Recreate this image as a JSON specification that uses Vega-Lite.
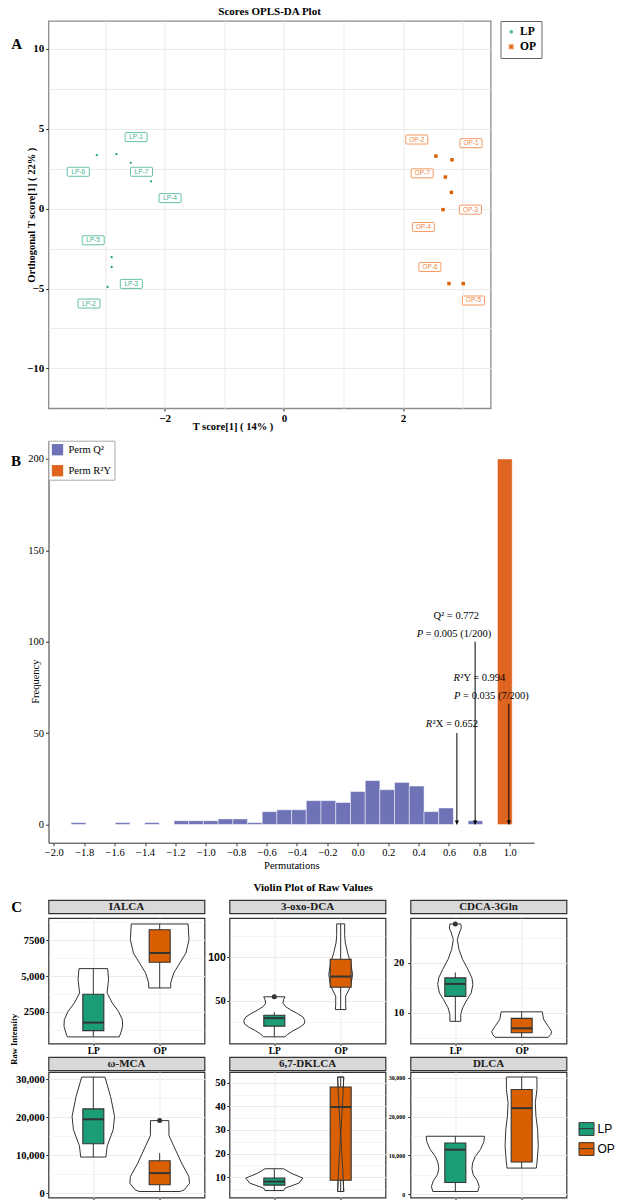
{
 "$schema": "https://vega.github.io/schema/vega-lite/v6.json",
 "background": "white",
 "padding": {"left": 9.5, "top": 4, "right": 0, "bottom": 0},
 "config": {
  "view": {"stroke": null},
  "axis": {"labelFont": "Liberation Serif", "titleFont": "Liberation Serif", "labelColor": "#000000", "titleColor": "#000000", "labelFontWeight": "bold", "titleFontWeight": "bold", "labelFontSize": 10.5, "titleFontSize": 10.5, "tickColor": "#333333", "tickSize": 2.75, "tickWidth": 1, "gridColor": "#ebebeb", "domain": false, "labelOverlap": false},
  "title": {"font": "Liberation Serif", "fontWeight": "bold", "fontSize": 11, "color": "#000000"},
  "legend": {"labelFont": "Liberation Serif", "labelColor": "#000000"}
 },
 "datasets": {
  "scores": [
   {"id": "LP-1", "g": "LP", "t1": -2.81, "to1": 3.41, "lx": -2.48, "ly": 4.48},
   {"id": "LP-2", "g": "LP", "t1": -2.96, "to1": -4.9, "lx": -3.27, "ly": -5.94},
   {"id": "LP-3", "g": "LP", "t1": -2.89, "to1": -3.65, "lx": -2.56, "ly": -4.71},
   {"id": "LP-4", "g": "LP", "t1": -2.23, "to1": 1.71, "lx": -1.91, "ly": 0.66},
   {"id": "LP-5", "g": "LP", "t1": -2.89, "to1": -3.04, "lx": -3.2, "ly": -1.98},
   {"id": "LP-6", "g": "LP", "t1": -3.14, "to1": 3.35, "lx": -3.45, "ly": 2.31},
   {"id": "LP-7", "g": "LP", "t1": -2.57, "to1": 2.87, "lx": -2.39, "ly": 2.31},
   {"id": "OP-1", "g": "OP", "t1": 2.82, "to1": 3.06, "lx": 3.14, "ly": 4.1},
   {"id": "OP-2", "g": "OP", "t1": 2.55, "to1": 3.29, "lx": 2.23, "ly": 4.33},
   {"id": "OP-3", "g": "OP", "t1": 2.81, "to1": 1.02, "lx": 3.13, "ly": -0.06},
   {"id": "OP-4", "g": "OP", "t1": 2.67, "to1": -0.06, "lx": 2.34, "ly": -1.15},
   {"id": "OP-5", "g": "OP", "t1": 3.01, "to1": -4.69, "lx": 3.18, "ly": -5.75},
   {"id": "OP-6", "g": "OP", "t1": 2.77, "to1": -4.69, "lx": 2.45, "ly": -3.65},
   {"id": "OP-7", "g": "OP", "t1": 2.71, "to1": 1.98, "lx": 2.32, "ly": 2.21}
  ],
  "hist": [
   {"x0": -1.886, "x1": -1.789, "n": 1, "type": "Perm Q²"},
   {"x0": -1.596, "x1": -1.499, "n": 1, "type": "Perm Q²"},
   {"x0": -1.402, "x1": -1.306, "n": 1, "type": "Perm Q²"},
   {"x0": -1.209, "x1": -1.113, "n": 2, "type": "Perm Q²"},
   {"x0": -1.113, "x1": -1.016, "n": 2, "type": "Perm Q²"},
   {"x0": -1.016, "x1": -0.919, "n": 2, "type": "Perm Q²"},
   {"x0": -0.919, "x1": -0.822, "n": 3, "type": "Perm Q²"},
   {"x0": -0.822, "x1": -0.726, "n": 3, "type": "Perm Q²"},
   {"x0": -0.726, "x1": -0.629, "n": 1, "type": "Perm Q²"},
   {"x0": -0.629, "x1": -0.532, "n": 7, "type": "Perm Q²"},
   {"x0": -0.532, "x1": -0.435, "n": 8, "type": "Perm Q²"},
   {"x0": -0.435, "x1": -0.339, "n": 8, "type": "Perm Q²"},
   {"x0": -0.339, "x1": -0.242, "n": 13, "type": "Perm Q²"},
   {"x0": -0.242, "x1": -0.145, "n": 13, "type": "Perm Q²"},
   {"x0": -0.145, "x1": -0.048, "n": 12, "type": "Perm Q²"},
   {"x0": -0.048, "x1": 0.049, "n": 18, "type": "Perm Q²"},
   {"x0": 0.049, "x1": 0.145, "n": 24, "type": "Perm Q²"},
   {"x0": 0.145, "x1": 0.242, "n": 19, "type": "Perm Q²"},
   {"x0": 0.242, "x1": 0.339, "n": 23, "type": "Perm Q²"},
   {"x0": 0.339, "x1": 0.436, "n": 21, "type": "Perm Q²"},
   {"x0": 0.436, "x1": 0.532, "n": 7, "type": "Perm Q²"},
   {"x0": 0.532, "x1": 0.629, "n": 9, "type": "Perm Q²"},
   {"x0": 0.726, "x1": 0.822, "n": 2, "type": "Perm Q²"},
   {"x0": 0.919, "x1": 1.016, "n": 200, "type": "Perm R²Y"}
  ],
  "arrows": [
   {"x": 0.652, "top": 50},
   {"x": 0.772, "top": 100},
   {"x": 0.994, "top": 66}
  ],
  "ann": [
   {"t": "Q² = 0.772", "x": 0.498, "y": 113.8, "it": 0},
   {"t": "P", "x": 0.43, "y": 104.2, "it": 1},
   {"t": "= 0.005 (1/200)", "x": 0.445, "y": 104.2, "it": 0},
   {"t": "R", "x": 0.672, "y": 80, "it": 1},
   {"t": "²Y = 0.994", "x": 0.674, "y": 80, "it": 0},
   {"t": "P", "x": 0.676, "y": 70.3, "it": 1},
   {"t": "= 0.035 (7/200)", "x": 0.693, "y": 70.3, "it": 0},
   {"t": "R", "x": 0.49, "y": 55, "it": 1},
   {"t": "²X = 0.652", "x": 0.492, "y": 55, "it": 0}
  ],
  "viol": [
   {"m": "IALCA", "g": "LP", "v": 5519, "l": 0.784, "r": 1.216},
   {"m": "IALCA", "g": "LP", "v": 4751, "l": 0.77, "r": 1.23},
   {"m": "IALCA", "g": "LP", "v": 3820, "l": 0.793, "r": 1.207},
   {"m": "IALCA", "g": "LP", "v": 3122, "l": 0.715, "r": 1.285},
   {"m": "IALCA", "g": "LP", "v": 2542, "l": 0.622, "r": 1.378},
   {"m": "IALCA", "g": "LP", "v": 1956, "l": 0.563, "r": 1.437},
   {"m": "IALCA", "g": "LP", "v": 1494, "l": 0.558, "r": 1.442},
   {"m": "IALCA", "g": "LP", "v": 1027, "l": 0.586, "r": 1.414},
   {"m": "IALCA", "g": "LP", "v": 747, "l": 0.609, "r": 1.391},
   {"m": "IALCA", "g": "OP", "v": 8638, "l": 1.572, "r": 2.428},
   {"m": "IALCA", "g": "OP", "v": 7542, "l": 1.558, "r": 2.442},
   {"m": "IALCA", "g": "OP", "v": 6613, "l": 1.604, "r": 2.396},
   {"m": "IALCA", "g": "OP", "v": 5914, "l": 1.696, "r": 2.304},
   {"m": "IALCA", "g": "OP", "v": 5216, "l": 1.788, "r": 2.212},
   {"m": "IALCA", "g": "OP", "v": 4518, "l": 1.834, "r": 2.166},
   {"m": "IALCA", "g": "OP", "v": 4169, "l": 1.834, "r": 2.166},
   {"m": "3-oxo-DCA", "g": "LP", "v": 54.3, "l": 0.84, "r": 1.16},
   {"m": "3-oxo-DCA", "g": "LP", "v": 51, "l": 0.86, "r": 1.14},
   {"m": "3-oxo-DCA", "g": "LP", "v": 47, "l": 0.87, "r": 1.13},
   {"m": "3-oxo-DCA", "g": "LP", "v": 43, "l": 0.83, "r": 1.17},
   {"m": "3-oxo-DCA", "g": "LP", "v": 39, "l": 0.75, "r": 1.25},
   {"m": "3-oxo-DCA", "g": "LP", "v": 35, "l": 0.65, "r": 1.35},
   {"m": "3-oxo-DCA", "g": "LP", "v": 31, "l": 0.57, "r": 1.43},
   {"m": "3-oxo-DCA", "g": "LP", "v": 27, "l": 0.54, "r": 1.46},
   {"m": "3-oxo-DCA", "g": "LP", "v": 23, "l": 0.55, "r": 1.45},
   {"m": "3-oxo-DCA", "g": "LP", "v": 19, "l": 0.62, "r": 1.38},
   {"m": "3-oxo-DCA", "g": "LP", "v": 15, "l": 0.72, "r": 1.28},
   {"m": "3-oxo-DCA", "g": "LP", "v": 11, "l": 0.8, "r": 1.2},
   {"m": "3-oxo-DCA", "g": "LP", "v": 8.1, "l": 0.84, "r": 1.16},
   {"m": "3-oxo-DCA", "g": "OP", "v": 138.5, "l": 1.94, "r": 2.06},
   {"m": "3-oxo-DCA", "g": "OP", "v": 125, "l": 1.94, "r": 2.06},
   {"m": "3-oxo-DCA", "g": "OP", "v": 116.6, "l": 1.93, "r": 2.07},
   {"m": "3-oxo-DCA", "g": "OP", "v": 105, "l": 1.895, "r": 2.105},
   {"m": "3-oxo-DCA", "g": "OP", "v": 93.5, "l": 1.85, "r": 2.15},
   {"m": "3-oxo-DCA", "g": "OP", "v": 80, "l": 1.82, "r": 2.18},
   {"m": "3-oxo-DCA", "g": "OP", "v": 66.6, "l": 1.85, "r": 2.15},
   {"m": "3-oxo-DCA", "g": "OP", "v": 55, "l": 1.925, "r": 2.075},
   {"m": "3-oxo-DCA", "g": "OP", "v": 45, "l": 1.925, "r": 2.075},
   {"m": "3-oxo-DCA", "g": "OP", "v": 39.6, "l": 1.92, "r": 2.08},
   {"m": "CDCA-3Gln", "g": "LP", "v": 27.8, "l": 0.918, "r": 1.082},
   {"m": "CDCA-3Gln", "g": "LP", "v": 27.0, "l": 0.91, "r": 1.09},
   {"m": "CDCA-3Gln", "g": "LP", "v": 26.0, "l": 0.94, "r": 1.06},
   {"m": "CDCA-3Gln", "g": "LP", "v": 24.7, "l": 0.97, "r": 1.03},
   {"m": "CDCA-3Gln", "g": "LP", "v": 22.7, "l": 0.945, "r": 1.055},
   {"m": "CDCA-3Gln", "g": "LP", "v": 20.7, "l": 0.89, "r": 1.11},
   {"m": "CDCA-3Gln", "g": "LP", "v": 18.7, "l": 0.81, "r": 1.19},
   {"m": "CDCA-3Gln", "g": "LP", "v": 17.0, "l": 0.75, "r": 1.25},
   {"m": "CDCA-3Gln", "g": "LP", "v": 15.7, "l": 0.735, "r": 1.265},
   {"m": "CDCA-3Gln", "g": "LP", "v": 14.0, "l": 0.76, "r": 1.24},
   {"m": "CDCA-3Gln", "g": "LP", "v": 12.7, "l": 0.82, "r": 1.18},
   {"m": "CDCA-3Gln", "g": "LP", "v": 11.0, "l": 0.89, "r": 1.11},
   {"m": "CDCA-3Gln", "g": "LP", "v": 9.7, "l": 0.918, "r": 1.082},
   {"m": "CDCA-3Gln", "g": "LP", "v": 8.3, "l": 0.918, "r": 1.082},
   {"m": "CDCA-3Gln", "g": "OP", "v": 10.2, "l": 1.69, "r": 2.31},
   {"m": "CDCA-3Gln", "g": "OP", "v": 8.7, "l": 1.67, "r": 2.33},
   {"m": "CDCA-3Gln", "g": "OP", "v": 7.3, "l": 1.6, "r": 2.4},
   {"m": "CDCA-3Gln", "g": "OP", "v": 6.3, "l": 1.55, "r": 2.45},
   {"m": "CDCA-3Gln", "g": "OP", "v": 5.7, "l": 1.56, "r": 2.44},
   {"m": "CDCA-3Gln", "g": "OP", "v": 5.1, "l": 1.6, "r": 2.4},
   {"m": "ω-MCA", "g": "LP", "v": 30611, "l": 0.825, "r": 1.175},
   {"m": "ω-MCA", "g": "LP", "v": 25490, "l": 0.74, "r": 1.26},
   {"m": "ω-MCA", "g": "LP", "v": 20290, "l": 0.68, "r": 1.32},
   {"m": "ω-MCA", "g": "LP", "v": 16760, "l": 0.7, "r": 1.3},
   {"m": "ω-MCA", "g": "LP", "v": 12524, "l": 0.79, "r": 1.21},
   {"m": "ω-MCA", "g": "LP", "v": 9526, "l": 0.81, "r": 1.19},
   {"m": "ω-MCA", "g": "OP", "v": 19137, "l": 1.862, "r": 2.138},
   {"m": "ω-MCA", "g": "OP", "v": 15170, "l": 1.86, "r": 2.14},
   {"m": "ω-MCA", "g": "OP", "v": 12524, "l": 1.79, "r": 2.21},
   {"m": "ω-MCA", "g": "OP", "v": 7938, "l": 1.67, "r": 2.33},
   {"m": "ω-MCA", "g": "OP", "v": 4410, "l": 1.56, "r": 2.44},
   {"m": "ω-MCA", "g": "OP", "v": 2646, "l": 1.55, "r": 2.45},
   {"m": "ω-MCA", "g": "OP", "v": 882, "l": 1.63, "r": 2.37},
   {"m": "ω-MCA", "g": "OP", "v": 441, "l": 1.69, "r": 2.31},
   {"m": "6,7-DKLCA", "g": "LP", "v": 13.55, "l": 0.86, "r": 1.14},
   {"m": "6,7-DKLCA", "g": "LP", "v": 11.7, "l": 0.75, "r": 1.25},
   {"m": "6,7-DKLCA", "g": "LP", "v": 9.57, "l": 0.57, "r": 1.43},
   {"m": "6,7-DKLCA", "g": "LP", "v": 7.45, "l": 0.63, "r": 1.37},
   {"m": "6,7-DKLCA", "g": "LP", "v": 5.3, "l": 0.84, "r": 1.16},
   {"m": "6,7-DKLCA", "g": "LP", "v": 4.3, "l": 0.86, "r": 1.14},
   {"m": "6,7-DKLCA", "g": "OP", "v": 52.4, "l": 1.954, "r": 2.046},
   {"m": "6,7-DKLCA", "g": "OP", "v": 45, "l": 1.965, "r": 2.035},
   {"m": "6,7-DKLCA", "g": "OP", "v": 38, "l": 1.978, "r": 2.022},
   {"m": "6,7-DKLCA", "g": "OP", "v": 30, "l": 1.994, "r": 2.006},
   {"m": "6,7-DKLCA", "g": "OP", "v": 28, "l": 1.997, "r": 2.003},
   {"m": "6,7-DKLCA", "g": "OP", "v": 22, "l": 1.988, "r": 2.012},
   {"m": "6,7-DKLCA", "g": "OP", "v": 15, "l": 1.972, "r": 2.028},
   {"m": "6,7-DKLCA", "g": "OP", "v": 8, "l": 1.96, "r": 2.04},
   {"m": "6,7-DKLCA", "g": "OP", "v": 3.9, "l": 1.954, "r": 2.046},
   {"m": "DLCA", "g": "LP", "v": 14920, "l": 0.56, "r": 1.44},
   {"m": "DLCA", "g": "LP", "v": 13500, "l": 0.57, "r": 1.43},
   {"m": "DLCA", "g": "LP", "v": 11554, "l": 0.62, "r": 1.38},
   {"m": "DLCA", "g": "LP", "v": 9700, "l": 0.7, "r": 1.3},
   {"m": "DLCA", "g": "LP", "v": 8017, "l": 0.74, "r": 1.26},
   {"m": "DLCA", "g": "LP", "v": 6500, "l": 0.75, "r": 1.25},
   {"m": "DLCA", "g": "LP", "v": 5000, "l": 0.73, "r": 1.27},
   {"m": "DLCA", "g": "LP", "v": 3500, "l": 0.67, "r": 1.33},
   {"m": "DLCA", "g": "LP", "v": 2000, "l": 0.64, "r": 1.36},
   {"m": "DLCA", "g": "LP", "v": 698, "l": 0.66, "r": 1.34},
   {"m": "DLCA", "g": "OP", "v": 30177, "l": 1.77, "r": 2.23},
   {"m": "DLCA", "g": "OP", "v": 26974, "l": 1.77, "r": 2.23},
   {"m": "DLCA", "g": "OP", "v": 23533, "l": 1.795, "r": 2.205},
   {"m": "DLCA", "g": "OP", "v": 20093, "l": 1.785, "r": 2.215},
   {"m": "DLCA", "g": "OP", "v": 16638, "l": 1.76, "r": 2.24},
   {"m": "DLCA", "g": "OP", "v": 12335, "l": 1.75, "r": 2.25},
   {"m": "DLCA", "g": "OP", "v": 8017, "l": 1.77, "r": 2.23},
   {"m": "DLCA", "g": "OP", "v": 6724, "l": 1.78, "r": 2.22}
  ],
  "box": [
   {"m": "IALCA", "g": "LP", "gi": 1, "lo": 747, "q1": 1187, "med": 1746, "q3": 3729, "hi": 5519},
   {"m": "IALCA", "g": "OP", "gi": 2, "lo": 4169, "q1": 5964, "med": 6613, "q3": 8240, "hi": 8638},
   {"m": "3-oxo-DCA", "g": "LP", "gi": 1, "lo": 8.1, "q1": 20.5, "med": 29.7, "q3": 33.1, "hi": 36.6},
   {"m": "3-oxo-DCA", "g": "OP", "gi": 2, "lo": 39.6, "q1": 65.4, "med": 77.7, "q3": 97.7, "hi": 138.5},
   {"m": "CDCA-3Gln", "g": "LP", "gi": 1, "lo": 8.3, "q1": 13.3, "med": 15.8, "q3": 17.0, "hi": 18.1},
   {"m": "CDCA-3Gln", "g": "OP", "gi": 2, "lo": 5.1, "q1": 6.0, "med": 6.9, "q3": 8.9, "hi": 10.2},
   {"m": "ω-MCA", "g": "LP", "gi": 1, "lo": 9526, "q1": 13054, "med": 19491, "q3": 22226, "hi": 30611},
   {"m": "ω-MCA", "g": "OP", "gi": 2, "lo": 441, "q1": 2205, "med": 5292, "q3": 8557, "hi": 10584},
   {"m": "6,7-DKLCA", "g": "LP", "gi": 1, "lo": 4.3, "q1": 6.6, "med": 8.1, "q3": 9.6, "hi": 13.5},
   {"m": "6,7-DKLCA", "g": "OP", "gi": 2, "lo": 3.9, "q1": 8.7, "med": 39.7, "q3": 48.2, "hi": 52.4},
   {"m": "DLCA", "g": "LP", "gi": 1, "lo": 698, "q1": 3026, "med": 11465, "q3": 13189, "hi": 14920},
   {"m": "DLCA", "g": "OP", "gi": 2, "lo": 6724, "q1": 8275, "med": 22159, "q3": 26974, "hi": 30177}
  ],
  "outl": [
   {"m": "3-oxo-DCA", "g": "LP", "gi": 1, "v": 54.3},
   {"m": "CDCA-3Gln", "g": "LP", "gi": 1, "v": 27.8},
   {"m": "ω-MCA", "g": "OP", "gi": 2, "v": 19137}
  ]
 },
 "spacing": 11,
 "resolve": {"scale": {"color": "independent", "shape": "independent", "size": "independent", "fill": "independent", "stroke": "independent"}, "legend": {"color": "independent", "shape": "independent", "size": "independent", "fill": "independent", "stroke": "independent"}},
 "vconcat": [
  {
   "bounds": "flush",
   "spacing": 31.7,
   "resolve": {"scale": {"color": "independent", "shape": "independent", "size": "independent", "fill": "independent", "stroke": "independent"}, "legend": {"color": "independent", "shape": "independent", "size": "independent", "fill": "independent", "stroke": "independent"}},
   "vconcat": [
    {
     "width": 442.2, "height": 387.3,
     "title": {"text": "Scores OPLS-DA Plot", "anchor": "middle", "offset": 4},
     "view": {"stroke": "#8c8c8c", "strokeWidth": 1.3},
     "layer": [
      {
       "data": {"name": "scores"},
       "mark": {"type": "point", "filled": true, "opacity": 1},
       "encoding": {
        "x": {"field": "t1", "type": "quantitative", "scale": {"domain": [-3.95, 3.47], "nice": false, "zero": false},
         "axis": {"values": [-3, -2, -1, 0, 1, 2, 3], "tickCount": 100, "labelOverlap": false, "labelExpr": "datum.value % 2 == 0 ? format(datum.value, 'd') : ''", "tickOpacity": {"condition": {"test": "datum.value % 2 != 0", "value": 0}, "value": 1}, "grid": true, "gridWidth": 1, "labelFontSize": 11, "labelPadding": 1, "title": "T score[1] ( 14% )", "titleX": 184, "titlePadding": -2}},
        "y": {"field": "to1", "type": "quantitative", "scale": {"domain": [-12.5, 11.75], "nice": false, "zero": false},
         "axis": {"values": [-10, -7.5, -5, -2.5, 0, 2.5, 5, 7.5, 10], "tickCount": 100, "labelOverlap": false, "labelExpr": "datum.value % 5 == 0 ? format(datum.value, 'd') : ''", "tickOpacity": {"condition": {"test": "datum.value % 5 != 0", "value": 0}, "value": 1}, "grid": true, "gridWidth": 1, "labelFontSize": 11, "labelPadding": 2, "title": "Orthogonal T score[1] ( 22% )", "titlePadding": -10}},
        "color": {"field": "g", "type": "nominal", "title": null, "scale": {"domain": ["LP", "OP"], "range": ["#1b9e77", "#d95f02"]},
         "legend": {"title": null, "orient": "right", "offset": 9, "padding": 5, "strokeColor": "#666666", "labelFont": "Liberation Serif", "labelFontWeight": "bold", "labelFontSize": 11.5, "rowPadding": 2, "labelOffset": 3}},
        "shape": {"field": "g", "type": "nominal", "title": null, "scale": {"domain": ["LP", "OP"], "range": ["circle", "square"]}},
        "size": {"field": "g", "type": "nominal", "title": null, "scale": {"domain": ["LP", "OP"], "range": [5, 12]}}
       }
      },
      {
       "data": {"name": "scores"},
       "mark": {"type": "point", "shape": "M-0.92,-0.41H0.92Q1,-0.41 1,-0.33V0.33Q1,0.41 0.92,0.41H-0.92Q-1,0.41 -1,0.33V-0.33Q-1,-0.41 -0.92,-0.41Z", "size": 484, "filled": true, "fill": "#ffffff", "fillOpacity": 1, "strokeWidth": 0.9, "opacity": 1},
       "encoding": {
        "x": {"field": "lx", "type": "quantitative"},
        "y": {"field": "ly", "type": "quantitative"},
        "stroke": {"field": "g", "type": "nominal", "scale": {"domain": ["LP", "OP"], "range": ["#55b99b", "#f08c4f"]}, "legend": null}
       }
      },
      {
       "data": {"name": "scores"},
       "mark": {"type": "text", "font": "Liberation Sans", "fontSize": 6.5, "baseline": "middle", "align": "center"},
       "encoding": {
        "x": {"field": "lx", "type": "quantitative"},
        "y": {"field": "ly", "type": "quantitative"},
        "text": {"field": "id"},
        "fill": {"field": "g", "type": "nominal", "scale": {"domain": ["LP", "OP"], "range": ["#45b08f", "#ee8544"]}, "legend": null}
       }
      },
      {
       "data": {"values": [{"t": "A", "x": -4.485, "y": 10.31}]},
       "mark": {"type": "text", "font": "Liberation Serif", "fontSize": 15, "fontWeight": "bold", "baseline": "middle", "align": "center"},
       "encoding": {
        "x": {"field": "x", "type": "quantitative"},
        "y": {"field": "y", "type": "quantitative"},
        "text": {"field": "t"}
       }
      }
     ]
    },
    {
     "width": 485.6, "height": 402,
     "view": {"stroke": null},
     "layer": [
      {
       "data": {"name": "hist"},
       "mark": {"type": "bar", "stroke": "#ffffff", "strokeWidth": 0.6, "strokeOpacity": 0.8},
       "encoding": {
        "x": {"field": "x0", "type": "quantitative", "scale": {"domain": [-2.035, 1.16], "nice": false, "zero": false},
         "axis": {"values": [-2, -1.8, -1.6, -1.4, -1.2, -1, -0.8, -0.6, -0.4, -0.2, 0, 0.2, 0.4, 0.6, 0.8, 1], "tickCount": 100, "labelOverlap": false, "labelExpr": "format(datum.value, '.1f')", "labelFontWeight": "normal", "labelFontSize": 10.5, "domain": true, "domainColor": "#333333", "grid": false, "labelPadding": 2, "tickSize": 3, "title": "Permutations", "titleFontWeight": "normal", "titlePadding": 2}},
        "x2": {"field": "x1"},
        "y": {"field": "n", "type": "quantitative", "scale": {"domain": [-10, 210], "nice": false, "zero": false},
         "axis": {"values": [0, 50, 100, 150, 200], "tickCount": 100, "labelOverlap": false, "labelExpr": "format(datum.value, 'd')", "labelFontWeight": "normal", "labelFontSize": 10.5, "domain": true, "domainColor": "#333333", "grid": false, "labelPadding": 2, "tickSize": 3, "title": "Frequency", "titleFontWeight": "normal", "titleY": 240.5, "titlePadding": -13}},
        "y2": {"datum": 0},
        "color": {"field": "type", "type": "nominal", "scale": {"domain": ["Perm Q²", "Perm R²Y"], "range": ["#6e72b7", "#de6420"]},
         "legend": {"title": null, "orient": "top-left", "offset": 0, "padding": 3, "strokeColor": "#aaaaaa", "fillColor": "#ffffff", "symbolType": "square", "symbolSize": 128, "symbolStrokeWidth": 0, "labelFont": "Liberation Serif", "labelFontSize": 10.5, "rowPadding": 9, "labelOffset": 5}}
       }
      },
      {
       "data": {"name": "arrows"},
       "mark": {"type": "rule", "color": "#000000", "strokeWidth": 1},
       "encoding": {
        "x": {"field": "x", "type": "quantitative"},
        "y": {"field": "top", "type": "quantitative"},
        "y2": {"datum": 0}
       }
      },
      {
       "data": {"name": "arrows"},
       "mark": {"type": "point", "shape": "M-0.6,-1.1L0.6,-1.1L0,0Z", "filled": true, "size": 49, "color": "#000000", "opacity": 1},
       "encoding": {
        "x": {"field": "x", "type": "quantitative"},
        "y": {"datum": 0}
       }
      },
      {
       "data": {"name": "ann"},
       "transform": [{"filter": "datum.it == 0"}],
       "mark": {"type": "text", "font": "Liberation Serif", "fontSize": 10.5, "align": "left", "baseline": "middle", "color": "#000000"},
       "encoding": {
        "x": {"field": "x", "type": "quantitative"},
        "y": {"field": "y", "type": "quantitative"},
        "text": {"field": "t"}
       }
      },
      {
       "data": {"name": "ann"},
       "transform": [{"filter": "datum.it == 1"}],
       "mark": {"type": "text", "font": "Liberation Serif", "fontSize": 10.5, "fontStyle": "italic", "align": "right", "baseline": "middle", "color": "#000000"},
       "encoding": {
        "x": {"field": "x", "type": "quantitative"},
        "y": {"field": "y", "type": "quantitative"},
        "text": {"field": "t"}
       }
      },
      {
       "data": {"values": [{"t": "B", "x": -2.249, "y": 199}]},
       "mark": {"type": "text", "font": "Liberation Serif", "fontSize": 15, "fontWeight": "bold", "baseline": "middle", "align": "center"},
       "encoding": {
        "x": {"field": "x", "type": "quantitative"},
        "y": {"field": "y", "type": "quantitative"},
        "text": {"field": "t"}
       }
      }
     ]
    }
   ]
  },
  {
   "title": {"text": "Violin Plot of Raw Values", "anchor": "middle", "frame": "bounds", "offset": 6},
   "resolve": {"scale": {"color": "independent"}, "legend": {"color": "independent"}},
   "vconcat": [
    {
     "title": {"text": "Raw Intensity", "orient": "left", "anchor": "middle", "fontSize": 8.5, "offset": -8, "dx": 15},
     "columns": 3,
     "align": "each",
     "spacing": {"row": 0, "column": 1},
     "resolve": {"scale": {"color": "independent"}, "legend": {"color": "independent"}},
     "concat": [
      {
       "width": 156, "height": 13.3,
       "view": {"fill": "#d9d9d9", "stroke": "#333333", "strokeWidth": 1.2},
       "layer": [
        {
         "data": {"values": [{"name": "IALCA"}]},
         "mark": {"type": "text", "font": "Liberation Serif", "fontWeight": "bold", "fontSize": 11, "baseline": "middle", "color": "#1a1a1a"},
         "encoding": {"text": {"field": "name"}}
        },
        {
         "data": {"values": [{"t": "C", "x": -0.048}]},
         "mark": {"type": "text", "font": "Liberation Serif", "fontWeight": "bold", "fontSize": 15, "baseline": "middle", "align": "center", "color": "#000000"},
         "encoding": {
          "x": {"field": "x", "type": "quantitative", "scale": {"domain": [0.4, 2.6], "nice": false, "zero": false}, "axis": null},
          "text": {"field": "t"}
         }
        }
       ]
      },
      {
       "width": 156, "height": 13.3,
       "view": {"fill": "#d9d9d9", "stroke": "#333333", "strokeWidth": 1.2},
       "data": {"values": [{"name": "3-oxo-DCA"}]},
       "mark": {"type": "text", "font": "Liberation Serif", "fontWeight": "bold", "fontSize": 11, "baseline": "middle", "color": "#1a1a1a"},
       "encoding": {"text": {"field": "name"}}
      },
      {
       "width": 156, "height": 13.3,
       "view": {"fill": "#d9d9d9", "stroke": "#333333", "strokeWidth": 1.2},
       "data": {"values": [{"name": "CDCA-3Gln"}]},
       "mark": {"type": "text", "font": "Liberation Serif", "fontWeight": "bold", "fontSize": 11, "baseline": "middle", "color": "#1a1a1a"},
       "encoding": {"text": {"field": "name"}}
      },
      {
       "width": 156, "height": 125.5,
       "view": {"stroke": "#333333", "strokeWidth": 1.2},
       "layer": [
        {"data": {"name": "viol"}, "transform": [{"filter": "datum.m == 'IALCA'"}],
         "mark": {"type": "area", "orient": "horizontal", "fill": "#ffffff", "stroke": "#333333", "strokeWidth": 1},
         "encoding": {
          "y": {"field": "v", "type": "quantitative", "scale": {"domain": [286, 9057], "nice": false, "zero": false},
           "axis": {"values": [1250, 2500, 3750, 5000, 6250, 7500, 8750], "tickCount": 100, "labelOverlap": false, "labelExpr": "datum.value == 2500 ? '2500' : datum.value == 5000 ? '5,000' : datum.value == 7500 ? '7500' : ''", "tickOpacity": {"condition": {"test": "datum.value % 2500 != 0", "value": 0}, "value": 1}, "grid": true, "gridWidth": {"condition": {"test": "datum.value % 2500 != 0", "value": 0.5}, "value": 1}, "title": null, "labelPadding": 1.5}},
          "x": {"field": "l", "type": "quantitative", "scale": {"domain": [0.4, 2.6], "nice": false, "zero": false},
           "axis": {"values": [1, 2], "tickCount": 100, "labelOverlap": false, "labelExpr": "datum.value == 1 ? 'LP' : 'OP'", "title": null, "labelFontSize": 9.5, "labelPadding": 0, "tickSize": 2, "grid": true, "gridWidth": 1}},
          "x2": {"field": "r"},
          "detail": {"field": "g"}
         }},
        {"data": {"name": "box"}, "transform": [{"filter": "datum.m == 'IALCA'"}],
         "mark": {"type": "rule", "color": "#333333", "strokeWidth": 1},
         "encoding": {"x": {"field": "gi", "type": "quantitative"}, "y": {"field": "lo", "type": "quantitative"}, "y2": {"field": "hi"}}},
        {"data": {"name": "box"}, "transform": [{"filter": "datum.m == 'IALCA'"}],
         "mark": {"type": "bar", "size": 21, "stroke": "#333333", "strokeWidth": 1.1},
         "encoding": {"x": {"field": "gi", "type": "quantitative"}, "y": {"field": "q1", "type": "quantitative"}, "y2": {"field": "q3"},
          "color": {"field": "g", "type": "nominal", "scale": {"domain": ["LP", "OP"], "range": ["#1b9e77", "#d95f02"]}, "legend": null}}},
        {"data": {"name": "box"}, "transform": [{"filter": "datum.m == 'IALCA'"}],
         "mark": {"type": "tick", "orient": "horizontal", "size": 21, "thickness": 2, "color": "#333333", "opacity": 1},
         "encoding": {"x": {"field": "gi", "type": "quantitative"}, "y": {"field": "med", "type": "quantitative"}}},
        {"data": {"name": "outl"}, "transform": [{"filter": "datum.m == 'IALCA'"}],
         "mark": {"type": "point", "filled": true, "size": 25, "color": "#333333", "opacity": 1},
         "encoding": {"x": {"field": "gi", "type": "quantitative"}, "y": {"field": "v", "type": "quantitative"}}}
       ]
      },
      {
       "width": 156, "height": 125.5,
       "view": {"stroke": "#333333", "strokeWidth": 1.2},
       "layer": [
        {"data": {"name": "viol"}, "transform": [{"filter": "datum.m == '3-oxo-DCA'"}],
         "mark": {"type": "area", "orient": "horizontal", "fill": "#ffffff", "stroke": "#333333", "strokeWidth": 1},
         "encoding": {
          "y": {"field": "v", "type": "quantitative", "scale": {"domain": [0.4, 145.3], "nice": false, "zero": false},
           "axis": {"values": [25, 50, 75, 100, 125], "tickCount": 100, "labelOverlap": false, "labelExpr": "datum.value % 50 == 0 ? format(datum.value, 'd') : ''", "labelFont": {"condition": {"test": "datum.value == 100", "value": "Liberation Sans"}, "value": "Liberation Serif"}, "tickOpacity": {"condition": {"test": "datum.value % 50 != 0", "value": 0}, "value": 1}, "grid": true, "gridWidth": {"condition": {"test": "datum.value % 50 != 0", "value": 0.5}, "value": 1}, "title": null, "labelPadding": 1.5}},
          "x": {"field": "l", "type": "quantitative", "scale": {"domain": [0.4, 2.6], "nice": false, "zero": false},
           "axis": {"values": [1, 2], "tickCount": 100, "labelOverlap": false, "labelExpr": "datum.value == 1 ? 'LP' : 'OP'", "title": null, "labelFontSize": 9.5, "labelPadding": 0, "tickSize": 2, "grid": true, "gridWidth": 1}},
          "x2": {"field": "r"},
          "detail": {"field": "g"}
         }},
        {"data": {"name": "box"}, "transform": [{"filter": "datum.m == '3-oxo-DCA'"}],
         "mark": {"type": "rule", "color": "#333333", "strokeWidth": 1},
         "encoding": {"x": {"field": "gi", "type": "quantitative"}, "y": {"field": "lo", "type": "quantitative"}, "y2": {"field": "hi"}}},
        {"data": {"name": "box"}, "transform": [{"filter": "datum.m == '3-oxo-DCA'"}],
         "mark": {"type": "bar", "size": 21, "stroke": "#333333", "strokeWidth": 1.1},
         "encoding": {"x": {"field": "gi", "type": "quantitative"}, "y": {"field": "q1", "type": "quantitative"}, "y2": {"field": "q3"},
          "color": {"field": "g", "type": "nominal", "scale": {"domain": ["LP", "OP"], "range": ["#1b9e77", "#d95f02"]}, "legend": null}}},
        {"data": {"name": "box"}, "transform": [{"filter": "datum.m == '3-oxo-DCA'"}],
         "mark": {"type": "tick", "orient": "horizontal", "size": 21, "thickness": 2, "color": "#333333", "opacity": 1},
         "encoding": {"x": {"field": "gi", "type": "quantitative"}, "y": {"field": "med", "type": "quantitative"}}},
        {"data": {"name": "outl"}, "transform": [{"filter": "datum.m == '3-oxo-DCA'"}],
         "mark": {"type": "point", "filled": true, "size": 25, "color": "#333333", "opacity": 1},
         "encoding": {"x": {"field": "gi", "type": "quantitative"}, "y": {"field": "v", "type": "quantitative"}}}
       ]
      },
      {
       "width": 156, "height": 125.5,
       "view": {"stroke": "#333333", "strokeWidth": 1.2},
       "layer": [
        {"data": {"name": "viol"}, "transform": [{"filter": "datum.m == 'CDCA-3Gln'"}],
         "mark": {"type": "area", "orient": "horizontal", "fill": "#ffffff", "stroke": "#333333", "strokeWidth": 1},
         "encoding": {
          "y": {"field": "v", "type": "quantitative", "scale": {"domain": [3.86, 29], "nice": false, "zero": false},
           "axis": {"values": [5, 10, 15, 20, 25], "tickCount": 100, "labelOverlap": false, "labelExpr": "datum.value % 10 == 0 ? format(datum.value, 'd') : ''", "tickOpacity": {"condition": {"test": "datum.value % 10 != 0", "value": 0}, "value": 1}, "grid": true, "gridWidth": {"condition": {"test": "datum.value % 10 != 0", "value": 0.5}, "value": 1}, "title": null, "labelPadding": 4}},
          "x": {"field": "l", "type": "quantitative", "scale": {"domain": [0.4, 2.6], "nice": false, "zero": false},
           "axis": {"values": [1, 2], "tickCount": 100, "labelOverlap": false, "labelExpr": "datum.value == 1 ? 'LP' : 'OP'", "title": null, "labelFontSize": 9.5, "labelPadding": 0, "tickSize": 2, "grid": true, "gridWidth": 1}},
          "x2": {"field": "r"},
          "detail": {"field": "g"}
         }},
        {"data": {"name": "box"}, "transform": [{"filter": "datum.m == 'CDCA-3Gln'"}],
         "mark": {"type": "rule", "color": "#333333", "strokeWidth": 1},
         "encoding": {"x": {"field": "gi", "type": "quantitative"}, "y": {"field": "lo", "type": "quantitative"}, "y2": {"field": "hi"}}},
        {"data": {"name": "box"}, "transform": [{"filter": "datum.m == 'CDCA-3Gln'"}],
         "mark": {"type": "bar", "size": 21, "stroke": "#333333", "strokeWidth": 1.1},
         "encoding": {"x": {"field": "gi", "type": "quantitative"}, "y": {"field": "q1", "type": "quantitative"}, "y2": {"field": "q3"},
          "color": {"field": "g", "type": "nominal", "scale": {"domain": ["LP", "OP"], "range": ["#1b9e77", "#d95f02"]}, "legend": null}}},
        {"data": {"name": "box"}, "transform": [{"filter": "datum.m == 'CDCA-3Gln'"}],
         "mark": {"type": "tick", "orient": "horizontal", "size": 21, "thickness": 2, "color": "#333333", "opacity": 1},
         "encoding": {"x": {"field": "gi", "type": "quantitative"}, "y": {"field": "med", "type": "quantitative"}}},
        {"data": {"name": "outl"}, "transform": [{"filter": "datum.m == 'CDCA-3Gln'"}],
         "mark": {"type": "point", "filled": true, "size": 25, "color": "#333333", "opacity": 1},
         "encoding": {"x": {"field": "gi", "type": "quantitative"}, "y": {"field": "v", "type": "quantitative"}}}
       ]
      },
      {
       "width": 156, "height": 13.3,
       "view": {"fill": "#d9d9d9", "stroke": "#333333", "strokeWidth": 1.2},
       "data": {"values": [{"name": "ω-MCA"}]},
       "mark": {"type": "text", "font": "Liberation Serif", "fontWeight": "bold", "fontSize": 11, "baseline": "middle", "color": "#1a1a1a"},
       "encoding": {"text": {"field": "name"}}
      },
      {
       "width": 156, "height": 13.3,
       "view": {"fill": "#d9d9d9", "stroke": "#333333", "strokeWidth": 1.2},
       "data": {"values": [{"name": "6,7-DKLCA"}]},
       "mark": {"type": "text", "font": "Liberation Serif", "fontWeight": "bold", "fontSize": 11, "baseline": "middle", "color": "#1a1a1a"},
       "encoding": {"text": {"field": "name"}}
      },
      {
       "width": 156, "height": 13.3,
       "view": {"fill": "#d9d9d9", "stroke": "#333333", "strokeWidth": 1.2},
       "data": {"values": [{"name": "DLCA"}]},
       "mark": {"type": "text", "font": "Liberation Serif", "fontWeight": "bold", "fontSize": 11, "baseline": "middle", "color": "#1a1a1a"},
       "encoding": {"text": {"field": "name"}}
      },
      {
       "width": 156, "height": 125.5,
       "view": {"stroke": "#333333", "strokeWidth": 1.2},
       "layer": [
        {"data": {"name": "viol"}, "transform": [{"filter": "datum.m == 'ω-MCA'"}],
         "mark": {"type": "area", "orient": "horizontal", "fill": "#ffffff", "stroke": "#333333", "strokeWidth": 1},
         "encoding": {
          "y": {"field": "v", "type": "quantitative", "scale": {"domain": [-1138, 31958], "nice": false, "zero": false},
           "axis": {"values": [0, 5000, 10000, 15000, 20000, 25000, 30000], "tickCount": 100, "labelOverlap": false, "labelExpr": "datum.value % 10000 == 0 ? format(datum.value, ',') : ''", "tickOpacity": {"condition": {"test": "datum.value % 10000 != 0", "value": 0}, "value": 1}, "grid": true, "gridWidth": {"condition": {"test": "datum.value % 10000 != 0", "value": 0.5}, "value": 1}, "title": null, "labelPadding": 1.5}},
          "x": {"field": "l", "type": "quantitative", "scale": {"domain": [0.4, 2.6], "nice": false, "zero": false},
           "axis": {"values": [1, 2], "tickCount": 100, "labelOverlap": false, "labelExpr": "datum.value == 1 ? 'LP' : 'OP'", "title": null, "labelFontSize": 9.5, "labelPadding": 0, "tickSize": 2, "grid": true, "gridWidth": 1}},
          "x2": {"field": "r"},
          "detail": {"field": "g"}
         }},
        {"data": {"name": "box"}, "transform": [{"filter": "datum.m == 'ω-MCA'"}],
         "mark": {"type": "rule", "color": "#333333", "strokeWidth": 1},
         "encoding": {"x": {"field": "gi", "type": "quantitative"}, "y": {"field": "lo", "type": "quantitative"}, "y2": {"field": "hi"}}},
        {"data": {"name": "box"}, "transform": [{"filter": "datum.m == 'ω-MCA'"}],
         "mark": {"type": "bar", "size": 21, "stroke": "#333333", "strokeWidth": 1.1},
         "encoding": {"x": {"field": "gi", "type": "quantitative"}, "y": {"field": "q1", "type": "quantitative"}, "y2": {"field": "q3"},
          "color": {"field": "g", "type": "nominal", "scale": {"domain": ["LP", "OP"], "range": ["#1b9e77", "#d95f02"]}, "legend": null}}},
        {"data": {"name": "box"}, "transform": [{"filter": "datum.m == 'ω-MCA'"}],
         "mark": {"type": "tick", "orient": "horizontal", "size": 21, "thickness": 2, "color": "#333333", "opacity": 1},
         "encoding": {"x": {"field": "gi", "type": "quantitative"}, "y": {"field": "med", "type": "quantitative"}}},
        {"data": {"name": "outl"}, "transform": [{"filter": "datum.m == 'ω-MCA'"}],
         "mark": {"type": "point", "filled": true, "size": 25, "color": "#333333", "opacity": 1},
         "encoding": {"x": {"field": "gi", "type": "quantitative"}, "y": {"field": "v", "type": "quantitative"}}}
       ]
      },
      {
       "width": 156, "height": 125.5,
       "view": {"stroke": "#333333", "strokeWidth": 1.2},
       "layer": [
        {"data": {"name": "viol"}, "transform": [{"filter": "datum.m == '6,7-DKLCA'"}],
         "mark": {"type": "area", "orient": "horizontal", "fill": "#ffffff", "stroke": "#333333", "strokeWidth": 1},
         "encoding": {
          "y": {"field": "v", "type": "quantitative", "scale": {"domain": [1.36, 54.55], "nice": false, "zero": false},
           "axis": {"values": [5, 10, 15, 20, 25, 30, 35, 40, 45, 50], "tickCount": 100, "labelOverlap": false, "labelExpr": "datum.value % 10 == 0 ? format(datum.value, 'd') : ''", "tickOpacity": {"condition": {"test": "datum.value % 10 != 0", "value": 0}, "value": 1}, "grid": true, "gridWidth": {"condition": {"test": "datum.value % 10 != 0", "value": 0.5}, "value": 1}, "title": null, "labelPadding": 1.5}},
          "x": {"field": "l", "type": "quantitative", "scale": {"domain": [0.4, 2.6], "nice": false, "zero": false},
           "axis": {"values": [1, 2], "tickCount": 100, "labelOverlap": false, "labelExpr": "datum.value == 1 ? 'LP' : 'OP'", "title": null, "labelFontSize": 9.5, "labelPadding": 0, "tickSize": 2, "grid": true, "gridWidth": 1}},
          "x2": {"field": "r"},
          "detail": {"field": "g"}
         }},
        {"data": {"name": "box"}, "transform": [{"filter": "datum.m == '6,7-DKLCA'"}],
         "mark": {"type": "rule", "color": "#333333", "strokeWidth": 1},
         "encoding": {"x": {"field": "gi", "type": "quantitative"}, "y": {"field": "lo", "type": "quantitative"}, "y2": {"field": "hi"}}},
        {"data": {"name": "box"}, "transform": [{"filter": "datum.m == '6,7-DKLCA'"}],
         "mark": {"type": "bar", "size": 21, "stroke": "#333333", "strokeWidth": 1.1},
         "encoding": {"x": {"field": "gi", "type": "quantitative"}, "y": {"field": "q1", "type": "quantitative"}, "y2": {"field": "q3"},
          "color": {"field": "g", "type": "nominal", "scale": {"domain": ["LP", "OP"], "range": ["#1b9e77", "#d95f02"]}, "legend": null}}},
        {"data": {"name": "box"}, "transform": [{"filter": "datum.m == '6,7-DKLCA'"}],
         "mark": {"type": "tick", "orient": "horizontal", "size": 21, "thickness": 2, "color": "#333333", "opacity": 1},
         "encoding": {"x": {"field": "gi", "type": "quantitative"}, "y": {"field": "med", "type": "quantitative"}}},
        {"data": {"name": "viol"}, "transform": [{"filter": "datum.m == '6,7-DKLCA' && datum.g == 'OP'"}],
         "mark": {"type": "area", "orient": "horizontal", "fill": "transparent", "stroke": "#333333", "strokeWidth": 0.9},
         "encoding": {"y": {"field": "v", "type": "quantitative"}, "x": {"field": "l", "type": "quantitative"}, "x2": {"field": "r"}}}
       ]
      },
      {
       "width": 156, "height": 125.5,
       "view": {"stroke": "#333333", "strokeWidth": 1.2},
       "layer": [
        {"data": {"name": "viol"}, "transform": [{"filter": "datum.m == 'DLCA'"}],
         "mark": {"type": "area", "orient": "horizontal", "fill": "#ffffff", "stroke": "#333333", "strokeWidth": 1},
         "encoding": {
          "y": {"field": "v", "type": "quantitative", "scale": {"domain": [-853, 31473], "nice": false, "zero": false},
           "axis": {"values": [0, 5000, 10000, 15000, 20000, 25000, 30000], "tickCount": 100, "labelOverlap": false, "labelExpr": "datum.value % 10000 == 0 ? format(datum.value, ',') : ''", "tickOpacity": {"condition": {"test": "datum.value % 10000 != 0", "value": 0}, "value": 1}, "grid": true, "gridWidth": {"condition": {"test": "datum.value % 10000 != 0", "value": 0.5}, "value": 1}, "title": null, "labelPadding": 3, "labelFontSize": 6}},
          "x": {"field": "l", "type": "quantitative", "scale": {"domain": [0.4, 2.6], "nice": false, "zero": false},
           "axis": {"values": [1, 2], "tickCount": 100, "labelOverlap": false, "labelExpr": "datum.value == 1 ? 'LP' : 'OP'", "title": null, "labelFontSize": 9.5, "labelPadding": 0, "tickSize": 2, "grid": true, "gridWidth": 1}},
          "x2": {"field": "r"},
          "detail": {"field": "g"}
         }},
        {"data": {"name": "box"}, "transform": [{"filter": "datum.m == 'DLCA'"}],
         "mark": {"type": "rule", "color": "#333333", "strokeWidth": 1},
         "encoding": {"x": {"field": "gi", "type": "quantitative"}, "y": {"field": "lo", "type": "quantitative"}, "y2": {"field": "hi"}}},
        {"data": {"name": "box"}, "transform": [{"filter": "datum.m == 'DLCA'"}],
         "mark": {"type": "bar", "size": 21, "stroke": "#333333", "strokeWidth": 1.1},
         "encoding": {"x": {"field": "gi", "type": "quantitative"}, "y": {"field": "q1", "type": "quantitative"}, "y2": {"field": "q3"},
          "color": {"field": "g", "type": "nominal", "scale": {"domain": ["LP", "OP"], "range": ["#1b9e77", "#d95f02"]},
           "legend": {"title": null, "orient": "none", "legendX": 168, "legendY": 49, "padding": 0, "symbolType": "M-1,-0.85H1V0.85H-1Z M-1,-0.05H1", "symbolSize": 225, "symbolStrokeColor": "#333333", "symbolStrokeWidth": 1, "labelFont": "Liberation Sans", "labelFontSize": 12, "rowPadding": 2, "labelOffset": 3}}}},
        {"data": {"name": "box"}, "transform": [{"filter": "datum.m == 'DLCA'"}],
         "mark": {"type": "tick", "orient": "horizontal", "size": 21, "thickness": 2, "color": "#333333", "opacity": 1},
         "encoding": {"x": {"field": "gi", "type": "quantitative"}, "y": {"field": "med", "type": "quantitative"}}}
       ]
      }
     ]
    }
   ]
  }
 ]
}
